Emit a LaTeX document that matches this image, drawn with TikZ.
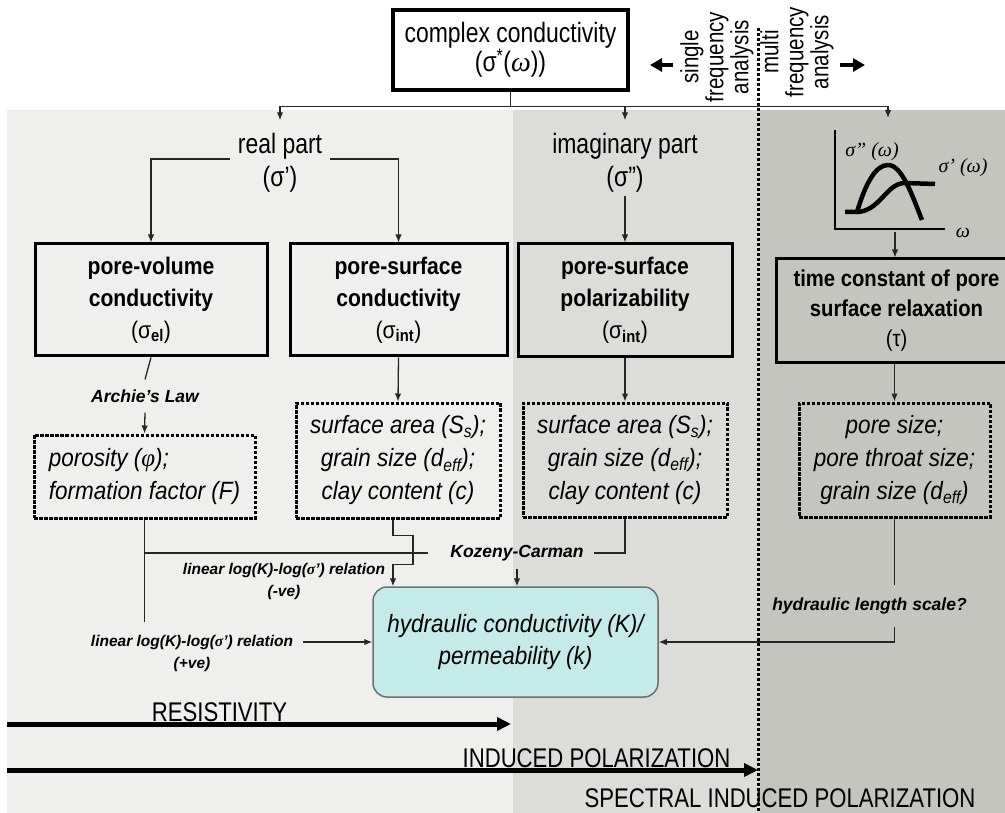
\documentclass[tikz,border=0pt]{standalone}
\usepackage{fontspec}
\setmainfont{Liberation Sans}
\newfontfamily\nrw[FakeStretch=0.82]{Liberation Sans}
\newfontfamily\nrwb[FakeStretch=0.88]{Liberation Sans}
\newfontfamily\nrwc[FakeStretch=0.9]{Liberation Sans}
\newfontfamily\srf{Liberation Serif}
\usetikzlibrary{arrows.meta}
\definecolor{bgA}{HTML}{EFEFED}
\definecolor{bgB}{HTML}{DCDCD8}
\definecolor{bgC}{HTML}{C5C5C0}
\definecolor{hydfill}{HTML}{C5EAEA}
\definecolor{hydline}{HTML}{6F6F6F}
\newcommand{\fsz}[2]{\fontsize{#1}{#2}\selectfont}
\newcommand{\gi}[1]{{\srf\itshape #1}}
\begin{document}
\begin{tikzpicture}[x=1pt,y=-1pt,
  wire/.style={line width=1.3pt, draw=black!85},
  conn/.style={wire, -{Latex[length=8pt,width=6.5pt]}},
  topbox/.style={draw, line width=3.5pt, fill=white, align=center, inner sep=0pt, font=\nrw\fsz{28}{27}},
  partlab/.style={align=center, font=\nrw\fsz{28}{33}, inner xsep=8pt, inner ysep=3pt},
  mainbox/.style={draw, line width=3pt, align=center, inner sep=0pt, font=\nrwb\bfseries\fsz{24}{32}},
  dotbox/.style={draw, line width=3pt, dash pattern=on 3.5pt off 1.5pt, align=center, inner sep=0pt, font=\nrwc\itshape\fsz{25}{33}},
  lab/.style={font=\bfseries\itshape\fsz{17.5}{20}, inner xsep=10pt},
  smalllab/.style={font=\bfseries\itshape\fsz{15.5}{22}, align=center, inner xsep=10pt},
  hydbox/.style={draw=hydline, fill=hydfill, line width=1.5pt, rounded corners=14pt, align=center, inner sep=0pt, font=\nrwc\itshape\fsz{25}{32}},
  rotlab/.style={rotate=90, align=center, font=\nrw\fsz{25}{25}, inner sep=0pt},
  bigtext/.style={font=\nrw\fsz{27}{27}, inner sep=0pt},
  bigarrow/.style={line width=5pt, -{Triangle[length=14pt,width=13pt]}},
  fatarrow/.style={line width=4pt, -{Triangle[length=12pt,width=13pt]}},
  sepline/.style={line width=3pt, dash pattern=on 3pt off 2pt},
  gaxis/.style={line width=2.5pt},
  gcurve/.style={line width=4.5pt, line join=round},
  glab/.style={font=\srf\itshape\fsz{20}{20}, inner sep=1pt}
]
\useasboundingbox (0,0) rectangle (1005,813);
% background bands
\fill[bgA] (7,110) rectangle (513,813);
\fill[bgB] (513,110) rectangle (760,813);
\fill[bgC] (760,110) rectangle (1005,813);
\coordinate (septop) at (758,28);
\coordinate (sepbot) at (758,813);

% top
\node[topbox, minimum width=235pt, minimum height=80pt] (cc) at (510.5,50)
  {complex conductivity\\(σ\textsuperscript{*}(\gi{ω}))};
\node[rotlab] (single) at (717,57) {single\\frequency\\analysis};
\node[rotlab] (multi) at (797,52) {multi\\frequency\\analysis};
\coordinate (la1) at (673,65); \coordinate (la2) at (650,65);
\coordinate (ra1) at (840,65); \coordinate (ra2) at (865,65);
\draw[fatarrow] (la1) -- (la2);
\draw[fatarrow] (ra1) -- (ra2);

% part labels
\node[partlab] (real) at (280,163) {real part\\(σ’)};
\node[partlab] (imag) at (625,163) {imaginary part\\(σ”)};

% graph
\coordinate (gtop) at (888,118);
\coordinate (gbot) at (895,232);
\draw[gaxis] (835,130) -- (835,229) -- (945,229);
\draw[gcurve] (845,212) -- (857,212) .. controls (866,182) and (876,165) .. (888,165)
  .. controls (902,165) and (912,195) .. (922,220);
\draw[gcurve] (856,212) .. controls (880,212) and (886,183) .. (905,183) -- (935,184);
\node[glab] (ls2) at (872,152) {σ” (ω)};
\node[glab] (ls1) at (963,168) {σ’ (ω)};
\node[glab] (lom) at (963,233) {ω};

% main boxes
\node[mainbox, minimum width=232pt, minimum height=112pt] (box1) at (151,300)
  {pore-volume\\conductivity\\{\mdseries(σ}\textsubscript{el}{\mdseries)}};
\node[mainbox, minimum width=217pt, minimum height=112pt] (box2) at (398.5,300)
  {pore-surface\\conductivity\\{\mdseries(σ}\textsubscript{int}{\mdseries)}};
\node[mainbox, minimum width=214pt, minimum height=113pt] (box3) at (625,300.5)
  {pore-surface\\polarizability\\{\mdseries(σ}\textsubscript{int}{\mdseries)}};
\node[mainbox, minimum width=241pt, minimum height=104pt, font=\nrwb\bfseries\fsz{23}{30}] (box4) at (896.5,311)
  {time constant of pore\\surface relaxation\\{\mdseries(τ)}};

% dotted boxes
\node[lab, inner ysep=10pt] (archie) at (145,396) {Archie’s Law};
\node[dotbox, minimum width=221pt, minimum height=83pt, align=left] (dot1) at (144.5,476.5)
  {porosity (\gi{φ});\\formation factor (F)};
\node[dotbox, minimum width=204pt, minimum height=115pt] (dot2) at (398,460.5)
  {surface area (S\textsubscript{s});\\grain size (d\textsubscript{eff});\\clay content (c)};
\node[dotbox, minimum width=204pt, minimum height=114pt] (dot3) at (625,460)
  {surface area (S\textsubscript{s});\\grain size (d\textsubscript{eff});\\clay content (c)};
\node[dotbox, minimum width=191pt, minimum height=114pt] (dot4) at (894.5,460)
  {pore size;\\pore throat size;\\grain size (d\textsubscript{eff})};

% hydraulic box and labels
\node[hydbox, minimum width=285pt, minimum height=110pt] (hyd) at (515.5,642)
  {hydraulic conductivity (K)/\\permeability (k)};
\node[lab, inner ysep=8pt] (koz) at (517,553) {Kozeny-Carman};
\node[smalllab] (lin1) at (284,581) {linear log(K)-log(\gi{σ}’) relation\\(-ve)};
\node[smalllab] (lin2) at (192,653.5) {linear log(K)-log(\gi{σ}’) relation\\(+ve)};
\node[lab, inner ysep=13pt] (hls) at (869.5,606) {hydraulic length scale?};
\coordinate (v1end) at (144.5,622);

% connectors
\draw[conn, shorten >=10pt] (cc.south) -- ++(0,15) -| (real.north);
\draw[conn, shorten >=10pt] (cc.south) -- ++(0,15) -| (imag.north);
\draw[conn] (cc.south) -- ++(0,15) -| (gtop);
\draw[conn] ([yshift=4pt]real.west) -| (box1.north);
\draw[conn] ([yshift=4pt]real.east) -| (box2.north);
\draw[conn] (imag.south) -- (box3.north);
\draw[conn] (gbot) -- (gbot |- box4.north);
\draw[wire] (box1.south) -- (archie.north);
\draw[conn] (archie.south) -- (dot1.north);
\draw[conn] (box2.south) -- (dot2.north);
\draw[conn] (box3.south) -- (dot3.north);
\draw[conn] (dot4.north |- box4.south) -- (dot4.north);
\draw[wire] (dot1.south) -- (v1end);
\draw[wire] (dot1.south |- koz.west) -- ([xshift=-12pt]koz.west);
\draw[wire] (koz.east) -| (dot3.south);
\draw[conn] (koz.south) -- (koz.south |- hyd.north);
\draw[conn] ([xshift=-5pt]dot2.south) -- ++(0,16) -- ++(20,0) -- ++(0,29) -- ++(-20,0)
  -- ([xshift=-5pt]dot2.south |- hyd.north);
\draw[conn] (lin2.east |- hyd.west) -- (hyd.west);
\draw[wire] (dot4.south) -- (dot4.south |- hls.north);
\draw[conn] (dot4.south |- hls.south) |- (hyd.east);

% bottom arrows
\coordinate (r1) at (7,724); \coordinate (r2) at (511,724);
\coordinate (i1) at (7,770); \coordinate (i2) at (758,770);
\draw[bigarrow] (r1) -- (r2);
\draw[bigarrow] (i1) -- (i2);
\node[bigtext] (res) at (219.5,712) {RESISTIVITY};
\node[bigtext] (ip) at (596.5,758) {INDUCED POLARIZATION};
\node[bigtext] (sip) at (780,798) {SPECTRAL INDUCED POLARIZATION};
\draw[sepline] (septop) -- (sepbot);
\end{tikzpicture}
\end{document}
